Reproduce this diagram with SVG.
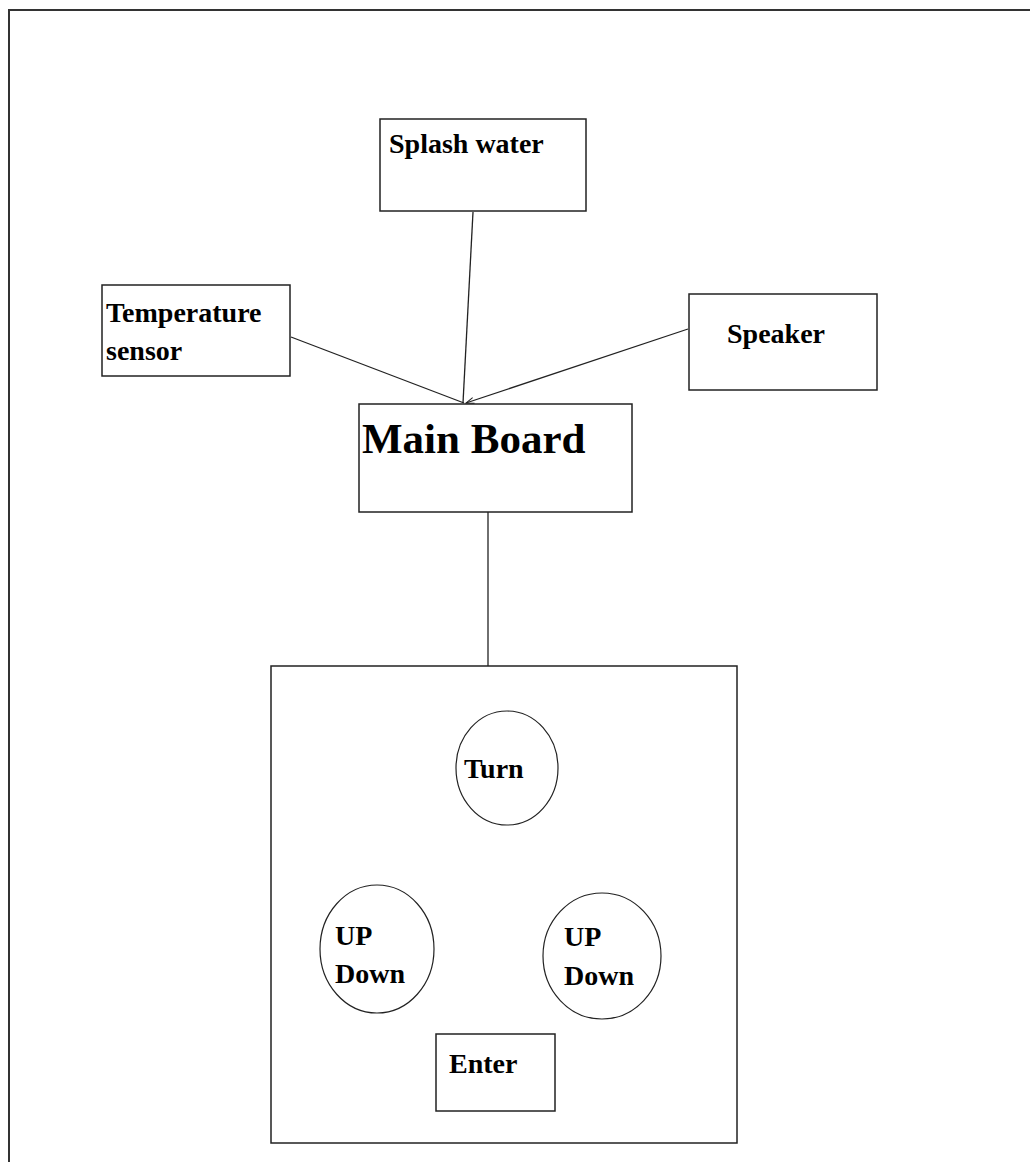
<svg xmlns="http://www.w3.org/2000/svg" width="1030" height="1162" viewBox="0 0 1030 1162">
<style>
.box{fill:#fff;stroke:#222;stroke-width:1.5}
.ov{fill:#fff;stroke:#222;stroke-width:1.2}
.ln{stroke:#222;stroke-width:1.3;fill:none}
text{font-family:"Liberation Serif","Times New Roman",serif;font-weight:bold;fill:#000}
.t{font-size:28px}
.big{font-size:43px}
</style>
<defs>
<marker id="ah" markerWidth="10" markerHeight="8" refX="9" refY="4" orient="auto" markerUnits="userSpaceOnUse">
<path d="M1,1 L9,4 L1,7" fill="none" stroke="#222" stroke-width="1"/>
</marker>
</defs>
<rect x="0" y="0" width="1030" height="1162" fill="#fff"/>
<rect x="9" y="10" width="1040" height="1180" fill="none" stroke="#333" stroke-width="2"/>
<g id="connectors">
<line class="ln" x1="291" y1="337" x2="464" y2="403"/>
<line class="ln" x1="473" y1="212" x2="463" y2="403"/>
<line class="ln" x1="688" y1="329" x2="466" y2="403" marker-end="url(#ah)"/>
<line class="ln" x1="488" y1="512" x2="488" y2="666"/>
</g>
<g id="splash">
<rect class="box" x="380" y="119" width="206" height="92"/>
<text class="t" x="389" y="153">Splash water</text>
</g>
<g id="temperature">
<rect class="box" x="102" y="285" width="188" height="91"/>
<text class="t" x="106" y="322">Temperature</text>
<text class="t" x="106" y="360">sensor</text>
</g>
<g id="speaker">
<rect class="box" x="689" y="294" width="188" height="96"/>
<text class="t" x="727" y="343">Speaker</text>
</g>
<g id="mainboard">
<rect class="box" x="359" y="404" width="273" height="108"/>
<text class="big" x="362" y="453">Main Board</text>
</g>
<g id="panel">
<rect class="box" x="271" y="666" width="466" height="477"/>
</g>
<g id="turn">
<ellipse class="ov" cx="507" cy="768" rx="51" ry="57"/>
<text class="t" x="464" y="778">Turn</text>
</g>
<g id="updown-left">
<ellipse class="ov" cx="377" cy="949" rx="57" ry="64"/>
<text class="t" x="335" y="945">UP</text>
<text class="t" x="335" y="983">Down</text>
</g>
<g id="updown-right">
<ellipse class="ov" cx="602" cy="956" rx="59" ry="63"/>
<text class="t" x="564" y="946">UP</text>
<text class="t" x="564" y="985">Down</text>
</g>
<g id="enter">
<rect class="box" x="436" y="1034" width="119" height="77"/>
<text class="t" x="449" y="1073">Enter</text>
</g>
</svg>
